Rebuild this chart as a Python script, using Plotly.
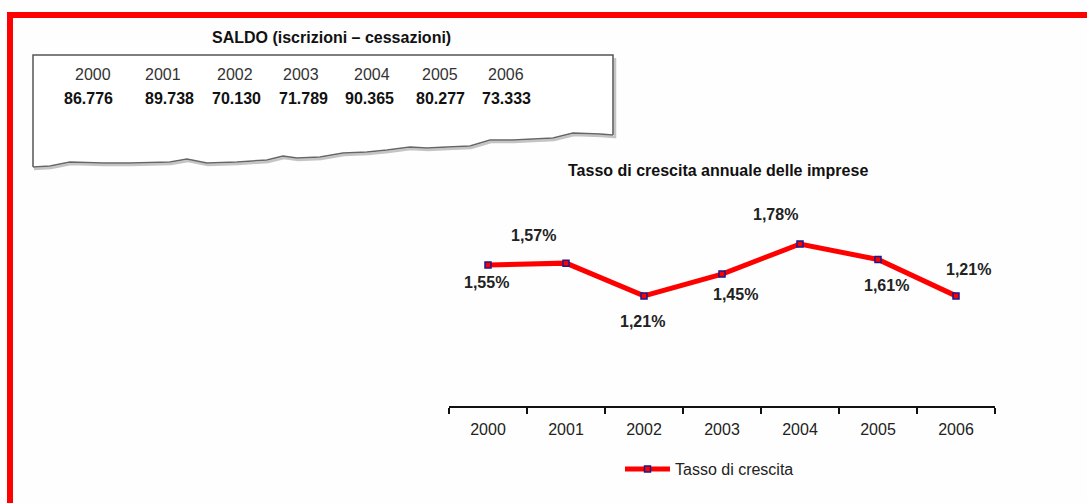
import plotly.graph_objects as go

# Annual business growth rate
anni = ["2000", "2001", "2002", "2003", "2004", "2005", "2006"]
tasso = [1.55, 1.57, 1.21, 1.45, 1.78, 1.61, 1.21]
etichette = ["1,55%", "1,57%", "1,21%", "1,45%", "1,78%", "1,61%", "1,21%"]

# Balance table (registrations - closures)
saldo = ["86.776", "89.738", "70.130", "71.789", "90.365", "80.277", "73.333"]

W, H = 1087, 503
FONT = "Liberation Sans, Arial, sans-serif"


def px(x):
    return x / W


def py(y):
    return 1 - y / H


def path(points):
    return "M " + " L ".join(f"{px(x):.5f},{py(y):.5f}" for x, y in points)


def label(x, y, text, size=16, color="#222222", **kw):
    return dict(x=x, y=y, text=text, showarrow=False, xanchor="center",
                yanchor="middle", font=dict(family=FONT, size=size, color=color), **kw)


fig = go.Figure()

fig.add_trace(go.Scatter(
    x=anni, y=tasso, mode="lines+markers", name="Tasso di crescita",
    line=dict(color="#ff0000", width=5),
    marker=dict(symbol="square", size=6, color="#ff0000",
                line=dict(color="#1a1a8c", width=1.5)),
    hoverinfo="skip",
))

# label offsets (pixels) around each point
offsets = [(-2, -18), (-33, 28), (-2, -26), (13, -20), (-25, 30), (8, -26), (12, 26)]
annotations = []
for i, (v, t, (dx, dy)) in enumerate(zip(tasso, etichette, offsets)):
    annotations.append(label(i, v, f"<b>{t}</b>", xref="x", yref="y",
                             xshift=dx, yshift=dy))

# chart title
annotations.append(label(px(718), py(170), "<b>Tasso di crescita annuale delle imprese</b>",
                         color="#111111", xref="paper", yref="paper"))

# table title
annotations.append(label(px(331), py(38), "<b>SALDO (iscrizioni – cessazioni)</b>",
                         color="#111111", xref="paper", yref="paper"))

# table columns
anni_x = [93, 163, 235, 301, 372, 440, 506]
saldo_x = [88, 169, 237, 303, 369, 440, 506]
for a, xa in zip(anni, anni_x):
    annotations.append(label(px(xa), py(74), a, color="#333333",
                             xref="paper", yref="paper"))
for s, xs in zip(saldo, saldo_x):
    annotations.append(label(px(xs), py(99), f"<b>{s}</b>", color="#111111",
                             xref="paper", yref="paper"))

# torn bottom edge of the table card, right to left
torn = [(613, 135), (600, 134), (573, 133), (553, 138), (513, 140), (490, 140),
        (470, 146), (447, 147), (427, 148), (410, 147), (387, 150), (367, 152),
        (343, 153), (320, 157), (297, 158), (283, 156), (267, 160), (237, 162),
        (207, 163), (187, 159), (170, 162), (130, 163), (103, 163), (70, 162),
        (50, 166), (33, 167)]

shapes = []
# shadow
shapes.append(dict(type="path", xref="paper", yref="paper",
                   path=path([(615, 58), (615, 137)] + [(x + 1, y + 2) for x, y in torn]),
                   line=dict(color="#c4c4c4", width=2.5)))
# card fill
shapes.append(dict(type="path", xref="paper", yref="paper",
                   path=path([(33, 55), (613, 55)] + torn) + " Z",
                   fillcolor="#ffffff", line=dict(width=0)))
# card outline
shapes.append(dict(type="path", xref="paper", yref="paper",
                   path=path([(33, 167), (33, 55), (613, 55), (613, 135)]),
                   line=dict(color="#555555", width=1.5)))
shapes.append(dict(type="path", xref="paper", yref="paper",
                   path=path(torn), line=dict(color="#666666", width=1.5)))

# red frame
shapes.append(dict(type="line", xref="paper", yref="paper",
                   x0=px(7), x1=px(1087), y0=py(15), y1=py(15),
                   line=dict(color="#ff0000", width=6)))
shapes.append(dict(type="line", xref="paper", yref="paper",
                   x0=px(10), x1=px(10), y0=py(12), y1=py(503),
                   line=dict(color="#ff0000", width=6)))

fig.update_layout(
    width=W, height=H,
    margin=dict(l=0, r=0, t=0, b=0),
    paper_bgcolor="#fefefe", plot_bgcolor="rgba(0,0,0,0)",
    font=dict(family=FONT, size=16, color="#222222"),
    xaxis=dict(
        domain=[px(449), px(995)], type="category", range=[-0.5, 6.5],
        showline=True, linecolor="#111111", linewidth=2,
        ticks="outside", tickson="boundaries", ticklen=6, tickwidth=2,
        tickcolor="#111111", showgrid=False, zeroline=False,
        tickfont=dict(family=FONT, size=16, color="#222222"),
        ticklabelstandoff=8, fixedrange=True,
    ),
    yaxis=dict(
        domain=[py(406), py(224)], range=[0, 2], visible=False, fixedrange=True,
    ),
    showlegend=True,
    legend=dict(
        x=px(620), y=py(469), xanchor="left", yanchor="middle",
        orientation="h", bgcolor="rgba(0,0,0,0)", itemwidth=45,
        font=dict(family=FONT, size=16, color="#222222"),
    ),
    annotations=annotations,
    shapes=shapes,
)

fig.write_html("out.html")
